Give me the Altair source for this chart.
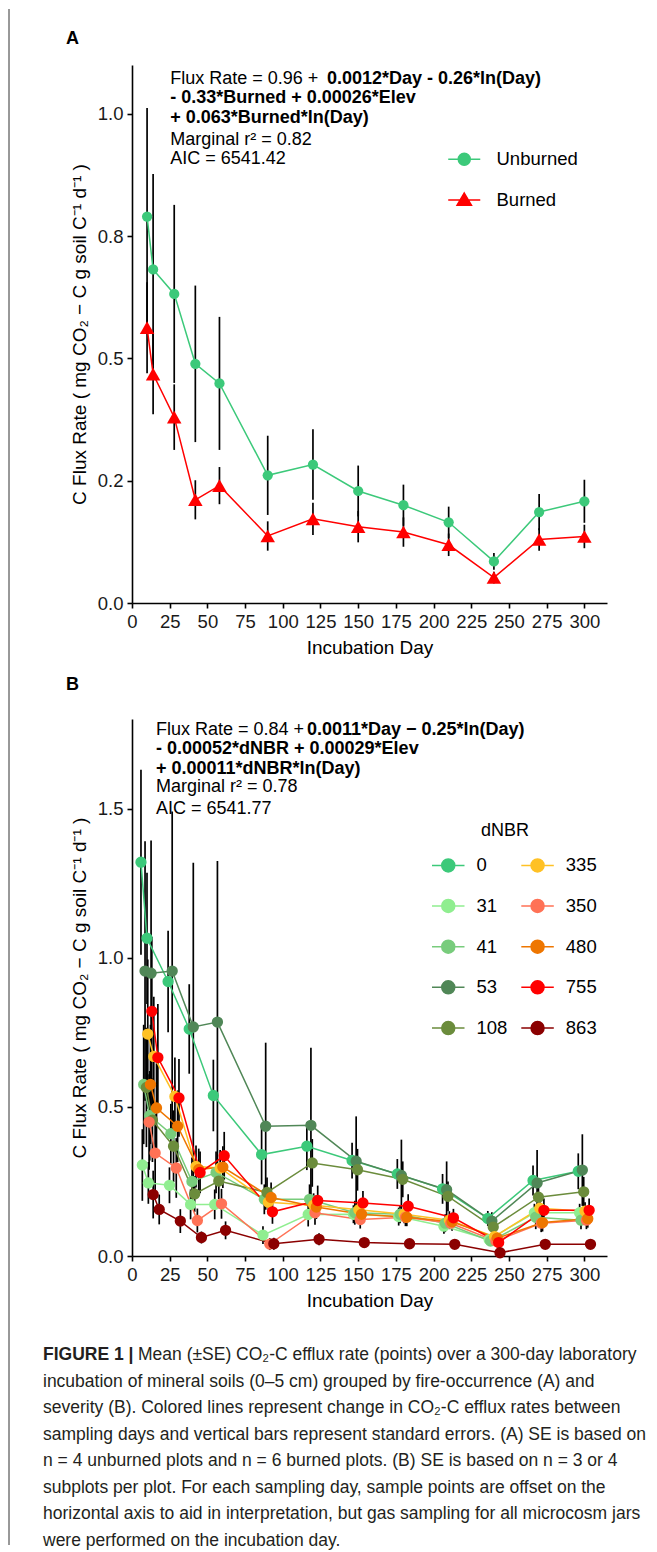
import altair as alt
import pandas as pd

FONT = "Liberation Sans"

# ---------------- data ----------------
days = [10, 14, 28, 42, 58, 90, 120, 150, 180, 210, 240, 270, 300]

unburned_mean = [0.790, 0.682, 0.632, 0.489, 0.449, 0.261, 0.283, 0.229, 0.200, 0.165, 0.085, 0.186, 0.208]
unburned_se = [0.222, 0.195, 0.182, 0.160, 0.136, 0.081, 0.072, 0.052, 0.042, 0.032, 0.017, 0.037, 0.044]
burned_mean = [0.563, 0.468, 0.380, 0.211, 0.240, 0.137, 0.172, 0.156, 0.145, 0.119, 0.052, 0.130, 0.136]
burned_se = [0.093, 0.082, 0.067, 0.040, 0.038, 0.030, 0.033, 0.032, 0.030, 0.023, 0.012, 0.023, 0.024]

fire_levels = ["Unburned", "Burned"]
fire_colors = ["#3CC97A", "#FF0000"]

dnbr_levels = ["0", "31", "41", "53", "108", "335", "350", "480", "755", "863"]
dnbr_colors = ["#3CC97A", "#90EE90", "#78CC7C", "#508757", "#6B8C3C",
               "#FFC125", "#FF7256", "#EE7600", "#FF0000", "#8B0000"]

dnbr_mean = {
    "0":   [1.320, 1.065, 0.920, 0.761, 0.538, 0.340, 0.368, 0.320, 0.275, 0.225, 0.126, 0.253, 0.284],
    "31":  [0.305, 0.245, 0.237, 0.173, 0.173, 0.070, 0.139, 0.140, 0.132, 0.100, 0.055, 0.145, 0.145],
    "41":  [0.575, 0.470, 0.410, 0.250, 0.280, 0.190, 0.190, 0.145, 0.140, 0.110, 0.050, 0.130, 0.120],
    "53":  [0.955, 0.948, 0.955, 0.768, 0.784, 0.435, 0.438, 0.318, 0.270, 0.222, 0.117, 0.245, 0.288],
    "108": [0.565, 0.455, 0.368, 0.208, 0.251, 0.213, 0.312, 0.289, 0.257, 0.200, 0.097, 0.197, 0.215],
    "335": [0.744, 0.669, 0.535, 0.300, 0.295, 0.180, 0.170, 0.155, 0.140, 0.120, 0.065, 0.160, 0.150],
    "350": [0.449, 0.345, 0.295, 0.119, 0.175, 0.040, 0.145, 0.122, 0.130, 0.110, 0.050, 0.110, 0.120],
    "480": [0.575, 0.496, 0.435, 0.290, 0.298, 0.196, 0.164, 0.140, 0.130, 0.115, 0.060, 0.112, 0.125],
    "755": [0.820, 0.665, 0.530, 0.280, 0.336, 0.148, 0.186, 0.178, 0.167, 0.128, 0.045, 0.153, 0.153],
    "863": [0.206, 0.156, 0.117, 0.062, 0.086, 0.041, 0.056, 0.045, 0.041, 0.039, 0.011, 0.039, 0.039],
}
dnbr_se = {
    "0":   [0.310, 0.220, 0.170, 0.150, 0.120, 0.100, 0.080, 0.060, 0.050, 0.050, 0.025, 0.050, 0.060],
    "31":  [0.120, 0.070, 0.060, 0.050, 0.050, 0.030, 0.040, 0.030, 0.030, 0.025, 0.015, 0.030, 0.030],
    "41":  [0.200, 0.150, 0.100, 0.080, 0.070, 0.050, 0.050, 0.040, 0.030, 0.030, 0.015, 0.040, 0.030],
    "53":  [0.435, 0.445, 0.535, 0.550, 0.540, 0.280, 0.260, 0.150, 0.120, 0.095, 0.030, 0.110, 0.120],
    "108": [0.200, 0.140, 0.120, 0.060, 0.060, 0.050, 0.080, 0.070, 0.060, 0.050, 0.020, 0.050, 0.050],
    "335": [0.250, 0.200, 0.130, 0.070, 0.060, 0.040, 0.040, 0.030, 0.030, 0.030, 0.015, 0.030, 0.030],
    "350": [0.160, 0.130, 0.100, 0.040, 0.050, 0.020, 0.040, 0.030, 0.030, 0.020, 0.015, 0.030, 0.030],
    "480": [0.200, 0.150, 0.120, 0.070, 0.070, 0.050, 0.040, 0.030, 0.030, 0.030, 0.015, 0.030, 0.030],
    "755": [0.250, 0.180, 0.130, 0.070, 0.080, 0.040, 0.050, 0.040, 0.040, 0.030, 0.015, 0.040, 0.040],
    "863": [0.080, 0.050, 0.040, 0.020, 0.030, 0.020, 0.020, 0.015, 0.010, 0.010, 0.005, 0.010, 0.010],
}
dodge_width = 9.0

x_ticks = [0, 25, 50, 75, 100, 125, 150, 175, 200, 225, 250, 275, 300]
yA_ticks = [0, 0.25, 0.5, 0.75, 1.0]
yB_ticks = [0, 0.5, 1.0, 1.5]

eqA_normal = [(25.3, 1.072, "Flux Rate = 0.96 + "),
              (25.3, 0.947, "Marginal r\u00b2 = 0.82"),
              (25.3, 0.908, "AIC = 6541.42")]
eqA_bold = [(129.3, 1.072, "0.0012*Day - 0.26*ln(Day)"),
            (25.3, 1.033, "- 0.33*Burned + 0.00026*Elev"),
            (25.3, 0.992, "+ 0.063*Burned*ln(Day)")]
eqB_normal = [(15.9, 1.762, "Flux Rate = 0.84 + "),
              (15.9, 1.572, "Marginal r\u00b2 = 0.78"),
              (15.9, 1.500, "AIC = 6541.77"),
              (231.5, 1.425, "dNBR")]
eqB_bold = [(116.0, 1.762, "0.0011*Day \u2212 0.25*ln(Day)"),
            (15.9, 1.699, "- 0.00052*dNBR + 0.00029*Elev"),
            (15.9, 1.632, "+ 0.00011*dNBR*ln(Day)")]

caption_bold = "FIGURE 1 |"
caption_lines = [
    "Mean (\u00b1SE) CO\u2082-C efflux rate (points) over a 300-day laboratory",
    "incubation of mineral soils (0\u20135 cm) grouped by fire-occurrence (A) and",
    "severity (B). Colored lines represent change in CO\u2082-C efflux rates between",
    "sampling days and vertical bars represent standard errors. (A) SE is based on",
    "n = 4 unburned plots and n = 6 burned plots. (B) SE is based on n = 3 or 4",
    "subplots per plot. For each sampling day, sample points are offset on the",
    "horizontal axis to aid in interpretation, but gas sampling for all microcosm jars",
    "were performed on the incubation day.",
]

YTITLE = "C Flux Rate ( mg CO\u2082 \u2212 C g soil C\u207b\u00b9 d\u207b\u00b9 )"

EQ_SIZE = 18
LEG_SIZE = 18.5
CAP_SIZE = 17.5

# ---------------- frames ----------------
rowsA = []
for grp, means, ses in [("Unburned", unburned_mean, unburned_se), ("Burned", burned_mean, burned_se)]:
    for d, m, s in zip(days, means, ses):
        rowsA.append({"day": d, "rate": m, "lo": m - s, "hi": m + s, "fire": grp})
dfA = pd.DataFrame(rowsA)

rowsB = []
n = len(dnbr_levels)
for i, lev in enumerate(dnbr_levels):
    off = (i - (n - 1) / 2) * dodge_width / n
    for d, m, s in zip(days, dnbr_mean[lev], dnbr_se[lev]):
        rowsB.append({"day": d + off, "rate": m, "lo": m - s, "hi": m + s, "dnbr": lev})
dfB = pd.DataFrame(rowsB)


def ann(lst):
    return pd.DataFrame([{"day": a, "rate": b, "t": c} for a, b, c in lst])


# ---------------- helpers ----------------
W = 475
HA = 538
HB = 537

x_scale = alt.Scale(domain=[0, 315], nice=False, zero=False)
x_axis = alt.Axis(values=x_ticks, title="Incubation Day", titleX=W / 2, titleY=44,
                  titleBaseline="middle", titleAlign="center", labelFlush=False)


def y_axis(vals, h, expr=None):
    kw = dict(values=vals, title=YTITLE, titleX=-53, titleY=h / 2, titleAngle=-90,
              titleBaseline="middle", titleAlign="center", format=".1f")
    if expr:
        kw["labelExpr"] = expr
    return alt.Axis(**kw)


yA_scale = alt.Scale(domain=[0, 1.1], nice=False, zero=True)
yB_scale = alt.Scale(domain=[0, 1.8], nice=False, zero=True)
yA_axis = y_axis(yA_ticks, HA, "datum.value == 0.25 ? '0.2' : datum.value == 0.75 ? '0.8' : format(datum.value, '.1f')")
yB_axis = y_axis(yB_ticks, HB)

LEG_CIRCLE = "M-2.67,0L2.67,0M1,0A1,1 0 1,1 -1,0A1,1 0 1,1 1,0Z"
LEG_TRI = "M-2.67,0L2.67,0M0,-1.15L1.2,0.9L-1.2,0.9Z"
LEG_CIRCLE_B = "M-2.5,0L2.5,0M1,0A1,1 0 1,1 -1,0A1,1 0 1,1 1,0Z"


def panel(df, eq_norm, eq_bold, y_scale, y_axis_obj):
    X = alt.X("day:Q", scale=x_scale, axis=x_axis)
    Y = alt.Y("rate:Q", scale=y_scale, axis=y_axis_obj)
    t_norm = alt.Chart(ann(eq_norm)).mark_text(
        align="left", baseline="middle", font=FONT, fontSize=EQ_SIZE, color="black"
    ).encode(x=X, y=Y, text="t:N")
    t_bold = alt.Chart(ann(eq_bold)).mark_text(
        align="left", baseline="middle", font=FONT, fontSize=EQ_SIZE, fontWeight="bold", color="black"
    ).encode(x=X, y=Y, text="t:N")
    bars = alt.Chart(df).mark_rule(color="black", strokeWidth=1.7).encode(
        x=X, y=alt.Y("lo:Q", scale=y_scale, axis=y_axis_obj), y2="hi:Q")
    return t_norm, t_bold, bars, X, Y


# ---------------- panel A ----------------
tA1, tA2, barsA, XA, YA = panel(dfA, eqA_normal, eqA_bold, yA_scale, yA_axis)
colA = alt.Color("fire:N", scale=alt.Scale(domain=fire_levels, range=fire_colors), legend=None)
linesA = alt.Chart(dfA).mark_line(strokeWidth=1.5).encode(x=XA, y=YA, color=colA, detail="fire:N")
circA = alt.Chart(dfA).transform_filter("datum.fire == 'Unburned'").mark_point(
    shape="circle", filled=True, size=105, opacity=1, color=fire_colors[0]).encode(x=XA, y=YA)
triA = alt.Chart(dfA).transform_filter("datum.fire == 'Burned'").mark_point(
    shape="triangle-up", filled=True, size=210, opacity=1, color=fire_colors[1]).encode(x=XA, y=YA)


def legend_entry(level, color, path, ly):
    kw = dict(orient="none", legendX=323, legendY=ly, title=None, labelFont=FONT,
              labelFontSize=LEG_SIZE, labelColor="black", labelOffset=23,
              symbolSize=144, symbolStrokeWidth=1.5, symbolType=path, padding=0)
    sc = alt.Scale(domain=[level], range=[color])
    return alt.Chart(dfA).transform_filter("false").mark_point(
        filled=True, opacity=1, strokeWidth=1.5).encode(
        x=XA, y=YA,
        fill=alt.Fill("fire:N", scale=sc, legend=alt.Legend(**kw)),
        stroke=alt.Stroke("fire:N", scale=sc, legend=alt.Legend(**kw)),
    )


legA1 = legend_entry(fire_levels[0], fire_colors[0], LEG_CIRCLE, 85)
legA2 = legend_entry(fire_levels[1], fire_colors[1], LEG_TRI, 125.7)

panelA = alt.layer(tA1, tA2, barsA, linesA, circA, triA, legA1, legA2).resolve_scale(
    fill="independent", stroke="independent"
).resolve_legend(fill="independent", stroke="independent").properties(
    width=W, height=HA,
    title=alt.TitleParams("A", anchor="start", frame="group", dx=-66, offset=17,
                          font=FONT, fontSize=18, fontWeight="bold", color="black"))

# ---------------- panel B ----------------
tB1, tB2, barsB, XB, YB = panel(dfB, eqB_normal, eqB_bold, yB_scale, yB_axis)
colB = alt.Color("dnbr:N", scale=alt.Scale(domain=dnbr_levels, range=dnbr_colors), legend=None)
linesB = alt.Chart(dfB).mark_line(strokeWidth=1.5).encode(x=XB, y=YB, color=colB, detail="dnbr:N")
ptsB = alt.Chart(dfB).mark_point(shape="circle", filled=True, size=128, opacity=1).encode(
    x=XB, y=YB, color=colB)
legB_kw = dict(orient="none", legendX=307, legendY=137, title=None, columns=2,
               labelFont=FONT, labelFontSize=LEG_SIZE, labelColor="black", labelOffset=19,
               rowPadding=20.7, columnPadding=10.3, symbolSize=169, symbolStrokeWidth=1.5,
               symbolType=LEG_CIRCLE_B, padding=0)
legB = alt.Chart(dfB).transform_filter("false").mark_point(filled=True, opacity=1, strokeWidth=1.5).encode(
    x=XB, y=YB,
    fill=alt.Fill("dnbr:N", scale=alt.Scale(domain=dnbr_levels, range=dnbr_colors), legend=alt.Legend(**legB_kw)),
    stroke=alt.Stroke("dnbr:N", scale=alt.Scale(domain=dnbr_levels, range=dnbr_colors), legend=alt.Legend(**legB_kw)),
)
panelB = alt.layer(tB1, tB2, barsB, linesB, ptsB, legB).resolve_scale(
    fill="independent", stroke="independent"
).resolve_legend(fill="independent", stroke="independent").properties(
    width=W, height=HB,
    title=alt.TitleParams("B", anchor="start", frame="group", dx=-66, offset=25,
                          font=FONT, fontSize=18, fontWeight="bold", color="black"))

# ---------------- caption ----------------
capdf = pd.DataFrame({"row": list(range(len(caption_lines))), "line": caption_lines})
cap_y = alt.Y("row:Q", scale=alt.Scale(domain=[0, 7], reverse=True, nice=False, zero=False), axis=None)
cap_base = alt.Chart(capdf).mark_text(
    align="left", baseline="middle", font=FONT, fontSize=CAP_SIZE, color="#231f20", dy=-17
)
cap_text1 = cap_base.transform_filter("datum.row == 0").encode(x=alt.value(6), y=cap_y, text="line:N")
cap_text2 = cap_base.transform_filter("datum.row > 0").encode(x=alt.value(-89), y=cap_y, text="line:N")
cap_bold = alt.Chart(pd.DataFrame({"row": [0], "line": [caption_bold]})).mark_text(
    align="left", baseline="middle", font=FONT, fontSize=CAP_SIZE, fontWeight="bold", color="#231f20", dy=-17
).encode(x=alt.value(-89), y=cap_y, text="line:N")
border = alt.Chart(pd.DataFrame({"k": [0]})).mark_rule(color="#333333", strokeWidth=1).encode(
    x=alt.value(-123), y=alt.value(-1363), y2=alt.value(173))
caption = alt.layer(border, cap_text1, cap_text2, cap_bold).properties(width=W, height=186)

chart = alt.vconcat(panelA, panelB, caption, spacing=116, bounds="flush").resolve_scale(
    color="independent", fill="independent", stroke="independent"
).resolve_legend(
    color="independent", fill="independent", stroke="independent"
).properties(
    padding={"left": 0, "top": 0, "right": 0, "bottom": 0}
).configure_view(strokeWidth=0).configure_axis(
    labelFont=FONT, labelFontSize=18.5, labelColor="#1a1a1a", labelPadding=4,
    titleFont=FONT, titleFontSize=19, titleFontWeight="normal", titleColor="black",
    domainColor="black", domainWidth=1.6, tickColor="black", tickWidth=1.6, tickSize=5,
    grid=False,
)

chart.save("out.html", embed_options={"renderer": "svg", "actions": False})
